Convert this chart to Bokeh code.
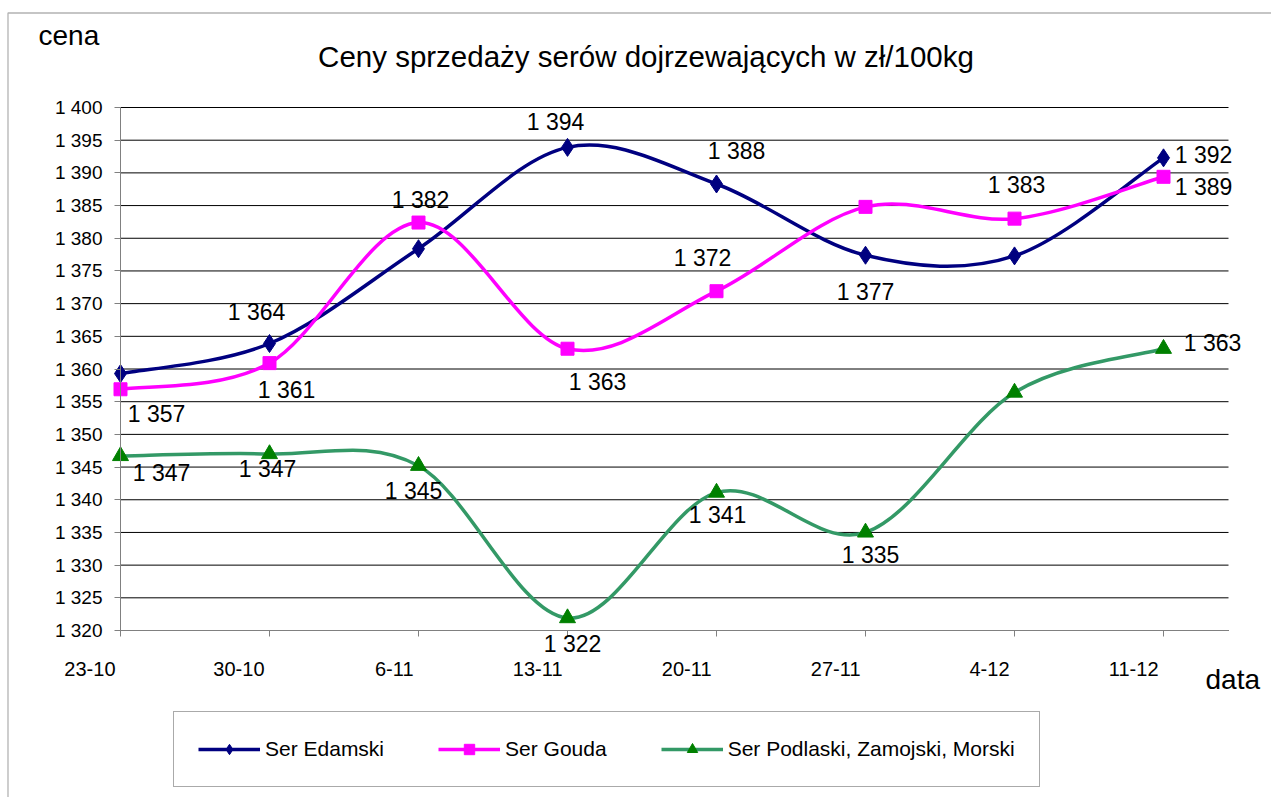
from bokeh.plotting import figure
from bokeh.models import Range1d, FixedTicker, Label, Legend, LegendItem, BoxAnnotation
from bokeh.embed import file_html
from bokeh.resources import INLINE

# ---------------- data ----------------
dates = ["23-10", "30-10", "6-11", "13-11", "20-11", "27-11", "4-12", "11-12"]
edamski = [1359.3, 1363.9, 1378.4, 1393.9, 1388.3, 1377.4, 1377.3, 1392.3]
gouda = [1356.9, 1360.9, 1382.4, 1363.1, 1371.9, 1384.8, 1383.0, 1389.4]
podlaski = [1346.7, 1347.0, 1345.2, 1321.9, 1341.1, 1335.0, 1356.4, 1363.1]
series_names = ["Ser Edamski", "Ser Gouda", "Ser Podlaski, Zamojski, Morski"]
y_ticks = list(range(1320, 1401, 5))
title_text = "Ceny sprzedaży serów dojrzewających w zł/100kg"
y_title = "cena"
x_title = "data"

# which points show a value label
edamski_shown = [False, True, False, True, True, True, False, True]
gouda_shown = [True, True, True, True, True, False, True, True]
podlaski_shown = [True, True, True, True, True, True, False, True]

# ---------------- layout / style ----------------
FONT = "Liberation Sans"
W, H = 1271, 797
AX_L, AX_T, AX_R, AX_B = 120, 107, 1228, 630   # plot area in canvas px
Y_LO, Y_HI = 1320, 1400
STEP = 149.0                                     # px per category
PX_Y = (AX_B - AX_T) / (Y_HI - Y_LO)


def X(px):
    return (px - AX_L) / STEP


def Y(py):
    return Y_HI - (py - AX_T) / PX_Y


# label pixel offsets (dx right, dy down) for each shown point
edamski_off = {1: (-13, -32), 3: (-12, -25), 4: (20, -33), 5: (0, 37), 7: (40, -3)}
gouda_off = {0: (36, 25), 1: (17, 27), 2: (2, -23), 3: (30, 33), 4: (-14, -33), 6: (2, -34), 7: (40, 10)}
podlaski_off = {0: (41, 17), 1: (-2, 15), 2: (-5, 25), 3: (5, 26), 4: (1, 22), 5: (5, 23), 7: (49, -6)}

p = figure(width=W, height=H, output_backend="svg", toolbar_location=None,
           x_range=Range1d(X(0), X(W)), y_range=Range1d(Y(H), Y(0)),
           min_border=0)
p.outline_line_color = None
p.background_fill_color = "white"
p.border_fill_color = "white"
p.xgrid.grid_line_color = None
p.ygrid.grid_line_color = None

# horizontal gridlines limited to the plot area
x_end = X(AX_R)
p.segment(x0=[0] * len(y_ticks), x1=[x_end] * len(y_ticks), y0=y_ticks, y1=y_ticks,
          line_color="#000000", line_width=1)

# axes
xa = p.xaxis[0]
xa.fixed_location = Y_LO
xa.bounds = (0, x_end)
xa.ticker = FixedTicker(ticks=list(range(len(dates))))
xa.major_label_overrides = {i: "" for i in range(len(dates))}
xa.major_label_text_font_size = "1px"
xa.axis_line_color = "#808080"
xa.major_tick_line_color = "#808080"
xa.major_tick_out = 6
xa.major_tick_in = 0
xa.minor_tick_line_color = None

ya = p.yaxis[0]
ya.fixed_location = 0
ya.bounds = (Y_LO, Y_HI)
ya.ticker = FixedTicker(ticks=y_ticks)
ya.major_label_overrides = {t: f"{t:,}".replace(",", " ") for t in y_ticks}
ya.major_label_text_font = FONT
ya.major_label_text_font_size = "19px"
ya.major_label_text_color = "black"
ya.axis_line_color = "#808080"
ya.major_tick_line_color = "#808080"
ya.major_tick_out = 6
ya.major_tick_in = 0
ya.minor_tick_line_color = None
ya.major_label_standoff = 12

# x category labels (right aligned just before each tick)
for i, d in enumerate(dates):
    p.add_layout(Label(x=i, y=Y(668), x_offset=-5, text=d, text_align="right",
                       text_baseline="middle", text_font=FONT,
                       text_font_size="20px", text_color="black"))

# titles
p.add_layout(Label(x=X(645.5), y=Y(56), text=title_text, text_align="center",
                   text_baseline="middle", text_font=FONT,
                   text_font_size="29.5px", text_color="black"))
p.add_layout(Label(x=X(38), y=Y(35), text=y_title, text_align="left",
                   text_baseline="middle", text_font=FONT,
                   text_font_size="28px", text_color="black"))
p.add_layout(Label(x=X(1205), y=Y(679), text=x_title, text_align="left",
                   text_baseline="middle", text_font=FONT,
                   text_font_size="28px", text_color="black"))

# outer chart border (left + top edges visible)
p.add_layout(BoxAnnotation(left=X(7.5), top=Y(12.5), right=X(W + 50), bottom=Y(H + 50),
                           fill_alpha=0, line_color="#000000", line_width=1.3))


def smooth_segments(ys):
    n = len(ys)
    xs = list(range(n))
    seg = dict(x0=[], y0=[], x1=[], y1=[], cx0=[], cy0=[], cx1=[], cy1=[])
    for i in range(n - 1):
        pm = max(i - 1, 0)
        pp = min(i + 2, n - 1)
        seg["x0"].append(xs[i]); seg["y0"].append(ys[i])
        seg["x1"].append(xs[i + 1]); seg["y1"].append(ys[i + 1])
        seg["cx0"].append(xs[i] + (xs[i + 1] - xs[pm]) / 6)
        seg["cy0"].append(ys[i] + (ys[i + 1] - ys[pm]) / 6)
        seg["cx1"].append(xs[i + 1] - (xs[pp] - xs[i]) / 6)
        seg["cy1"].append(ys[i + 1] - (ys[pp] - ys[i]) / 6)
    return seg


specs = [
    (edamski, edamski_shown, edamski_off, "#000080", "#000080", "diamond", 18),
    (gouda, gouda_shown, gouda_off, "#FF00FF", "#FF00FF", "square", 13),
    (podlaski, podlaski_shown, podlaski_off, "#339966", "#008000", "triangle", 16),
]

items = []
for name, (vals, shown, offs, lc, mc, mk, ms) in zip(series_names, specs):
    seg = smooth_segments(vals)
    p.bezier(x0=seg["x0"], y0=seg["y0"], x1=seg["x1"], y1=seg["y1"],
             cx0=seg["cx0"], cy0=seg["cy0"], cx1=seg["cx1"], cy1=seg["cy1"],
             line_color=lc, line_width=3.5, line_cap="round")
    # single-point line: invisible in the plot, supplies the legend's line sample
    leg_line = p.line(x=[0], y=[vals[0]], line_color=lc, line_width=3.5)
    sc = p.scatter(x=list(range(len(vals))), y=vals, marker=mk, size=ms,
                   fill_color=mc, line_color=mc)
    items.append(LegendItem(label=name, renderers=[leg_line, sc]))
    for i, v in enumerate(vals):
        if shown[i]:
            ox, oy = offs[i]
            p.add_layout(Label(x=i + ox / STEP, y=v - oy / PX_Y,
                               text=f"{round(v):,}".replace(",", " "),
                               text_align="center", text_baseline="middle",
                               text_font=FONT, text_font_size="23px",
                               text_color="black"))

legend = Legend(items=items, orientation="horizontal", location=(173, H - 787),
                padding=24, spacing=54, glyph_width=62, glyph_height=26,
                label_standoff=5, label_height=20,
                label_text_font=FONT, label_text_font_size="21px",
                label_text_color="black",
                border_line_color="#555555", border_line_width=1,
                background_fill_color="white", background_fill_alpha=1,
                margin=0)
p.add_layout(legend, "center")

open("out.html", "w").write(file_html(p, INLINE))
